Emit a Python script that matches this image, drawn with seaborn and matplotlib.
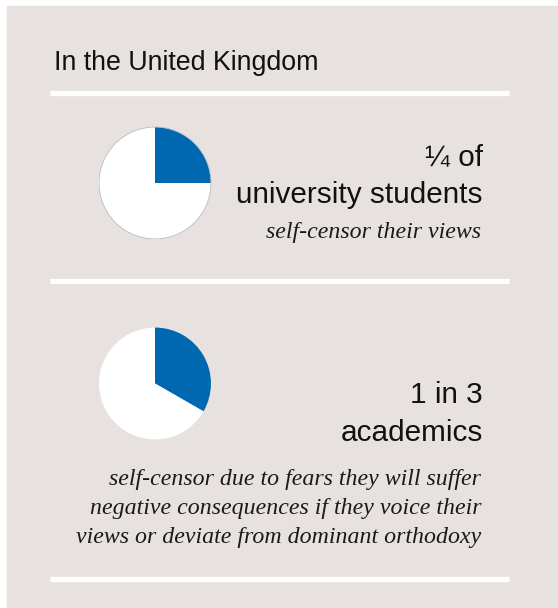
import numpy as np
import matplotlib
matplotlib.use("Agg")
import matplotlib.pyplot as plt
import seaborn as sns

# chart content
title = "In the United Kingdom"
groups = ["university students", "academics"]
censor_share = [0.25, 0.333]
headlines = [["¼ of", "university students"], ["1 in 3", "academics"]]
notes = [
    ["self-censor their views"],
    ["self-censor due to fears they will suffer",
     "negative consequences if they voice their",
     "views or deviate from dominant orthodoxy"],
]

sns.set_theme(style="white")
plt.rcParams["font.family"] = ["Liberation Sans", "DejaVu Sans"]

W, H = 558, 608
BG = "#e7e2e0"
BLUE = "#0067b1"

fig = plt.figure(figsize=(W / 100, H / 100), dpi=100, facecolor="white")
ax = fig.add_axes([0, 0, 1, 1])
ax.set_xlim(0, W)
ax.set_ylim(H, 0)
ax.axis("off")

# grey panel
ax.add_patch(plt.Rectangle((7, 6), W - 7, H - 6, color=BG, zorder=0))

ax.text(54, 70, title, fontsize=19.3, color="#111111", va="baseline", ha="left")

# white separators
ax.hlines([93, 281, 579], 50, 509, colors="white", linewidth=3.8)

# pies, one small axes each
pie_centers = [(155, 183), (155, 383.5)]
radius = 56.5
for (cx, cy), share, edge in zip(pie_centers, censor_share, ["#b8bcc4", "none"]):
    pax = fig.add_axes([(cx - radius) / W, (H - cy - radius) / H,
                        2 * radius / W, 2 * radius / H])
    pax.pie([share, 1 - share], colors=[BLUE, "white"], startangle=90,
            counterclock=False, radius=1,
            wedgeprops=dict(linewidth=0))
    pax.add_patch(plt.Circle((0, 0), 1, fill=False, edgecolor=edge, linewidth=0.6))
    pax.set_xlim(-1.01, 1.01)
    pax.set_ylim(-1.01, 1.01)
    pax.set_aspect("equal")
    pax.axis("off")

# headline text
head_base = [[165, 203], [403, 441]]
for lines, ys in zip(headlines, head_base):
    for txt, y in zip(lines, ys):
        ax.text(483, y, txt, fontsize=21.4, color="#111111", ha="right", va="baseline")

serif = dict(family=["Liberation Serif", "DejaVu Serif"], style="italic")
note_base = [[238], [485, 514, 543]]
for lines, ys in zip(notes, note_base):
    for txt, y in zip(lines, ys):
        ax.text(481, y, txt, fontsize=17.2, color="#1a1a1a", ha="right",
                va="baseline", **serif)

fig.savefig("out.png", dpi=100, facecolor="white")
